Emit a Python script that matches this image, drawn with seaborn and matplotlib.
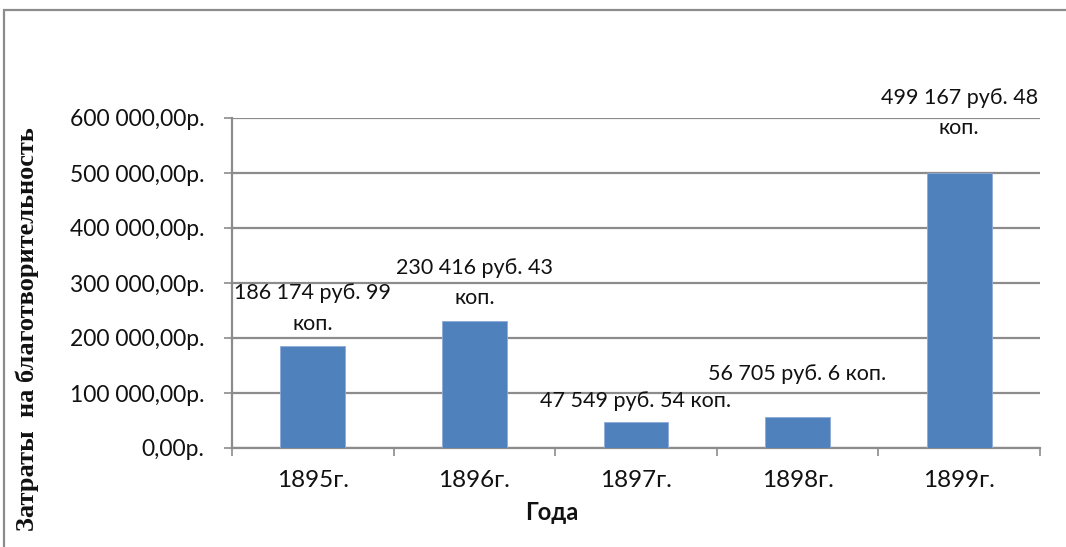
import matplotlib
matplotlib.use("Agg")
import matplotlib.pyplot as plt
import seaborn as sns
import pandas as pd
from matplotlib.patches import Rectangle

# ---- data ----
years = ["1895г.", "1896г.", "1897г.", "1898г.", "1899г."]
values = [186174.99, 230416.43, 47549.54, 56705.06, 499167.48]
value_labels = ["186 174 руб. 99\nкоп.", "230 416 руб. 43\nкоп.",
                "47 549 руб. 54 коп.", "56 705 руб. 6 коп.",
                "499 167 руб. 48\nкоп."]
yticks = [0, 100000, 200000, 300000, 400000, 500000, 600000]
ytick_labels = ["0,00р.", "100 000,00р.", "200 000,00р.", "300 000,00р.",
                "400 000,00р.", "500 000,00р.", "600 000,00р."]
xlabel = "Года"
ylabel = "Затраты  на благотворительность"

# ---- style ----
label_offsets_px = [12, 13, 11, 33, 35]
sns.set_theme(style="white")
plt.rcParams["font.family"] = ["Lato", "DejaVu Sans"]

fig = plt.figure(figsize=(10.66, 5.47), dpi=100)
ax = fig.add_axes([232/1066, 1-448/547, (1040-232)/1066, (448-118)/547])

df = pd.DataFrame({"year": years, "value": values})
sns.barplot(data=df, x="year", y="value", color="#4F81BD", width=0.4,
            saturation=1, edgecolor="#8EAAD8", linewidth=0.6, ax=ax, zorder=3)

ax.set_ylim(0, 600000)
ax.set_xlim(-0.5, len(years) - 0.5)
ax.set_yticks(yticks)
ax.set_yticklabels(ytick_labels, fontsize=16.5, color="#111111")
ax.yaxis.grid(True, color="#8c8c8c", linewidth=1.6, zorder=0)
ax.set_axisbelow(True)

ax.set_xticks(range(len(years)))
ax.set_xticklabels(years, fontsize=17.5, color="#111111")
ax.tick_params(axis="x", length=0, pad=16)
ax.tick_params(axis="y", length=6, width=1.2, color="#8c8c8c", left=True, pad=14)
# category boundary ticks
ax.set_xticks([i - 0.5 for i in range(len(years) + 1)], minor=True)
ax.tick_params(axis="x", which="minor", length=6, width=1.2, color="#8c8c8c", bottom=True)

for s in ["top", "right"]:
    ax.spines[s].set_visible(False)
for s in ["left", "bottom"]:
    ax.spines[s].set_color("#8c8c8c")
    ax.spines[s].set_linewidth(1.6)

ax.set_xlabel("")
ax.set_ylabel("")
fig.text(552/1066, 1-512/547, xlabel, ha="center", va="center",
         fontsize=17, fontweight="bold", color="#111111")

for i, (v, lab) in enumerate(zip(values, value_labels)):
    ax.annotate(lab, (i, v), xytext=(0, label_offsets_px[i] * 0.72),
                textcoords="offset points", ha="center", va="bottom",
                fontsize=15.5, linespacing=1.65, color="#111111", zorder=5)

fig.text(27/1066, 1-329/547, ylabel, rotation=90, ha="center", va="center",
         fontsize=19, fontweight="bold", family=["Liberation Serif", "DejaVu Serif"],
         color="#111111")

# outer chart-area border
fig.patches.append(Rectangle((4/1066, -0.1), 1.2, 1-10/547+0.1,
                             transform=fig.transFigure, fill=False,
                             edgecolor="#8c8c8c", linewidth=1.6))

fig.savefig("out.png", dpi=100)
